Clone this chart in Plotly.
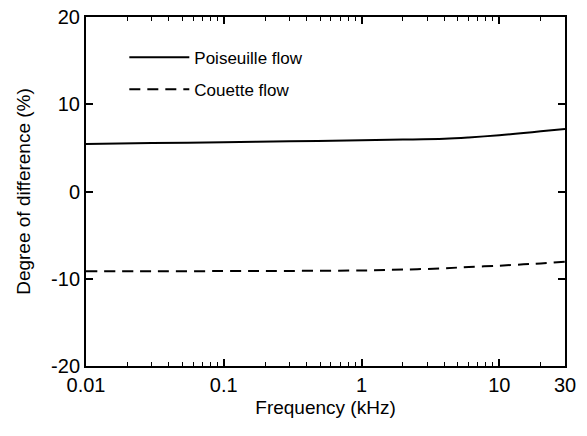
import plotly.graph_objects as go
import numpy as np

freq = [0.01, 0.03, 0.1, 0.3, 1, 2, 4, 6, 10, 15, 20, 30]
poiseuille = [5.45, 5.55, 5.65, 5.75, 5.88, 5.95, 6.05, 6.2, 6.45, 6.7, 6.9, 7.15]
couette = [-9.15, -9.15, -9.12, -9.1, -9.05, -8.95, -8.8, -8.65, -8.5, -8.35, -8.25, -8.05]

x_ticks = [0.01, 0.1, 1, 10, 30]
x_ticktext = ["0.01", "0.1", "1", "10", "30"]
x_minor = [m * 10**e for e in range(-2, 2) for m in range(2, 10) if m * 10**e < 30] + [20]
y_ticks = [-20, -10, 0, 10, 20]
y_ticktext = ["-20", "-10", "0", "10", "20"]

font = "Liberation Sans, Arial, sans-serif"

fig = go.Figure()
fig.add_trace(go.Scatter(x=freq, y=poiseuille, mode="lines", name="Poiseuille flow",
                         legendgroup="p",
                         line=dict(color="black", width=2, shape="spline")))
fig.add_trace(go.Scatter(x=freq, y=couette, mode="lines", name="Couette flow",
                         legendgroup="c",
                         line=dict(color="black", width=2, dash="11px,7px", shape="spline")))

fig.update_layout(
    width=587, height=436,
    margin=dict(l=86, r=22, t=17, b=70, autoexpand=False),
    paper_bgcolor="white", plot_bgcolor="white",
    font=dict(family=font, color="black", size=17),
    showlegend=True,
    legend=dict(x=0.08, y=0.935, xanchor="left", yanchor="top",
                bgcolor="rgba(0,0,0,0)", font=dict(size=17), itemwidth=60,
                tracegroupgap=7),
)
fig.update_xaxes(
    type="log", range=[-2, np.log10(30)], automargin=False,
    tickvals=x_ticks, ticktext=x_ticktext, ticklabeloverflow="allow",
    ticks="inside", ticklen=7, tickwidth=1.5, tickcolor="black",
    minor=dict(tickvals=x_minor, ticks="inside", ticklen=4, tickcolor="black", tickwidth=1.2),
    showline=True, linecolor="black", linewidth=2, mirror="allticks",
    showgrid=False, zeroline=False,
    tickfont=dict(size=20),
    title=dict(text="Frequency (kHz)", font=dict(size=19), standoff=6),
)
fig.update_yaxes(
    range=[-20, 20], tickvals=y_ticks, ticktext=y_ticktext, automargin=False,
    ticklabeloverflow="allow",
    ticks="inside", ticklen=7, tickwidth=1.5, tickcolor="black",
    showline=True, linecolor="black", linewidth=2, mirror="allticks",
    showgrid=False, zeroline=False,
    tickfont=dict(size=20),
    title=dict(text="Degree of difference (%)", font=dict(size=19)),
)

# remove the default page margin so the 587x436 figure fills the window exactly
fig.write_html("out.html",
               config={"displayModeBar": False},
               post_script="document.body.style.margin='0';document.body.style.overflow='hidden';")
